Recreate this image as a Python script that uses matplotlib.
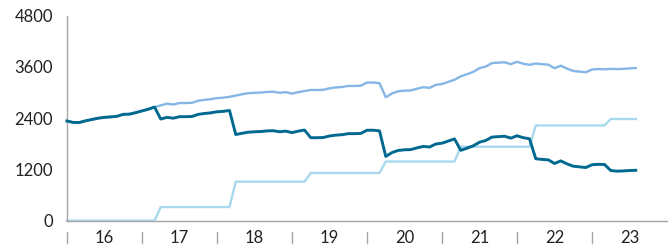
import numpy as np
import matplotlib
matplotlib.use("Agg")
import matplotlib.pyplot as plt

# ─────────────────────────────────────────────
# Data (monthly, Jan 2016 .. Aug 2023)
# ─────────────────────────────────────────────

START_YEAR = 2016
YEARS      = [2016, 2017, 2018, 2019, 2020, 2021, 2022, 2023]
YEAR_LABELS = ["16", "17", "18", "19", "20", "21", "22", "23"]

total = [
    2334, 2300, 2300, 2340, 2370, 2400, 2420, 2430, 2445, 2490, 2495, 2530,
    2570, 2610, 2660, 2700, 2740, 2720, 2755, 2755, 2760, 2810, 2830, 2845,
    2870, 2880, 2900, 2930, 2960, 2985, 2995, 3000, 3015, 3020, 2995, 3010,
    2975, 3010, 3035, 3060, 3060, 3065, 3100, 3120, 3130, 3155, 3155, 3160,
    3235, 3235, 3220, 2890, 2980, 3030, 3045, 3050, 3090, 3125, 3110, 3180,
    3200, 3250, 3300, 3380, 3430, 3485, 3570, 3610, 3690, 3700, 3710, 3665,
    3720, 3675, 3650, 3680, 3665, 3655, 3570, 3630, 3560, 3505, 3490, 3475,
    3540, 3550, 3545, 3555, 3550, 3555, 3565, 3575,
]

main = [
    2334, 2300, 2300, 2340, 2370, 2400, 2420, 2430, 2445, 2490, 2495, 2530,
    2570, 2610, 2660, 2380, 2420, 2400, 2435, 2435, 2440, 2490, 2510, 2525,
    2550, 2560, 2580, 2017, 2047, 2072, 2082, 2087, 2102, 2107, 2082, 2097,
    2062, 2097, 2122, 1943, 1943, 1948, 1983, 2003, 2013, 2038, 2038, 2043,
    2118, 2118, 2103, 1505, 1595, 1645, 1660, 1665, 1705, 1740, 1725, 1795,
    1815, 1865, 1915, 1648, 1698, 1753, 1838, 1878, 1958, 1968, 1978, 1933,
    1988, 1943, 1918, 1450, 1435, 1425, 1340, 1400, 1330, 1275, 1260, 1245,
    1310, 1320, 1315, 1174, 1160, 1165, 1175, 1180,
]

steps = [
    0, 0, 0, 0, 0, 0, 0, 0, 0, 0, 0, 0,
    0, 0, 0, 320, 320, 320, 320, 320, 320, 320, 320, 320,
    320, 320, 320, 913, 913, 913, 913, 913, 913, 913, 913, 913,
    913, 913, 913, 1117, 1117, 1117, 1117, 1117, 1117, 1117, 1117, 1117,
    1117, 1117, 1117, 1385, 1385, 1385, 1385, 1385, 1385, 1385, 1385, 1385,
    1385, 1385, 1385, 1732, 1732, 1732, 1732, 1732, 1732, 1732, 1732, 1732,
    1732, 1732, 1732, 2230, 2230, 2230, 2230, 2230, 2230, 2230, 2230, 2230,
    2230, 2230, 2230, 2381, 2381, 2381, 2381, 2381,
]

Y_TICKS = [0, 1200, 2400, 3600, 4800]

# ─────────────────────────────────────────────
# Style
# ─────────────────────────────────────────────

plt.rcParams["font.family"] = ["Lato", "DejaVu Sans"]
COL_MAIN  = "#00698f"
COL_TOTAL = "#85b6e6"
COL_STEPS = "#a8d9ee"
COL_AXIS  = "#a6a6a6"

months = np.arange(len(total))
x = START_YEAR + months / 12.0

fig = plt.figure(figsize=(6.72, 2.47), dpi=100)
ax = fig.add_axes([0.0997, 0.1065, 0.8929, 0.83])

ax.plot(x, steps, color=COL_STEPS, lw=1.7, clip_on=False, zorder=2)
ax.plot(x, total, color=COL_TOTAL, lw=1.7, clip_on=False, zorder=3)
ax.plot(x, main,  color=COL_MAIN,  lw=2.1, clip_on=False, zorder=4)

ax.set_xlim(START_YEAR, YEARS[-1] + 1)
ax.set_ylim(0, 4800)

# y axis
ax.set_yticks(Y_TICKS)
ax.set_yticklabels([str(v) for v in Y_TICKS], fontsize=12, color="#222222")
ax.tick_params(axis="y", length=0, pad=10)

# x axis: labels centred in each year, tick marks at year boundaries
ax.set_xticks(YEARS)
ax.set_xticklabels([])
ax.tick_params(axis="x", which="major", length=0)
ax.set_xticks([y + 0.5 for y in YEARS], minor=True)
ax.set_xticklabels(YEAR_LABELS, minor=True, fontsize=12, color="#222222")
ax.tick_params(axis="x", which="minor", length=0, pad=7)

trans = ax.get_xaxis_transform()
for yr in YEARS:
    ax.plot([yr, yr], [-0.054, -0.110], color=COL_AXIS, lw=1.0,
            transform=trans, clip_on=False)

for side in ["top", "right"]:
    ax.spines[side].set_visible(False)
for side in ["left", "bottom"]:
    ax.spines[side].set_color(COL_AXIS)
    ax.spines[side].set_linewidth(1.0)

fig.savefig("out.png", dpi=100)
